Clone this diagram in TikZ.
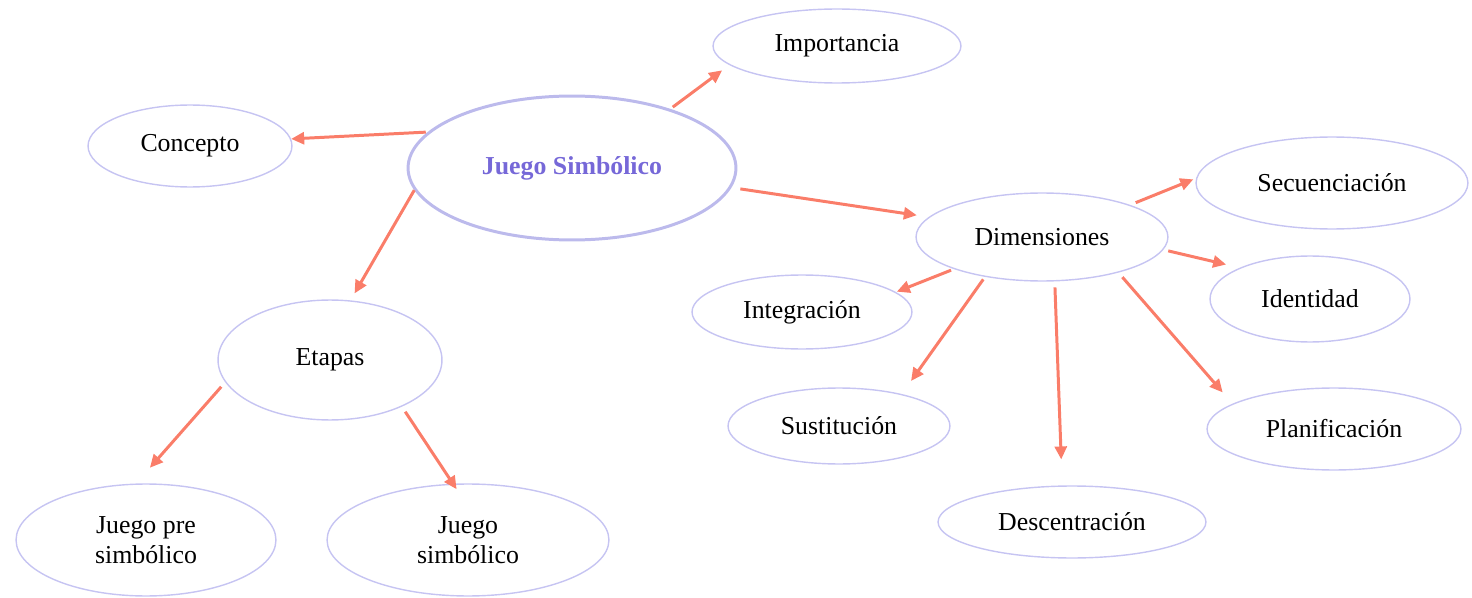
\documentclass[tikz,border=0pt]{standalone}
\usepackage{fontspec}
\setmainfont{Liberation Serif}
\usetikzlibrary{shapes.geometric,arrows.meta}
\definecolor{elborder}{RGB}{198,196,242}
\definecolor{elcenter}{RGB}{188,186,236}
\definecolor{arrowc}{RGB}{250,125,105}
\definecolor{titlec}{RGB}{118,104,216}
\tikzset{
  bub/.style={ellipse, draw=elborder, line width=0.8pt, inner sep=0pt, align=center,
    font=\fontsize{14.7}{17}\selectfont},
  sz/.style 2 args={minimum width=#1*0.04cm, minimum height=#2*0.04cm},
  conn/.style={draw=arrowc, line width=1.7pt, -{Triangle[length=0.26cm,width=0.24cm]}},
  gs/.style={shorten <=#1*0.02cm},
  ge/.style={shorten >=#1*0.02cm},
}
\begin{document}
\begin{tikzpicture}[x=0.02cm,y=-0.02cm]
\useasboundingbox (0,0) rectangle (1472,598);
% nodes
\node[bub, sz={164}{72}, draw=elcenter, line width=1.7pt, text=titlec, font=\fontsize{14.7}{17}\selectfont\bfseries] (js) at (572,168) {Juego Simbólico};
\node[bub, sz={124}{37}] (imp) at (837,46) {Importancia};
\node[bub, sz={102}{41}] (con) at (190,146) {Concepto};
\node[bub, sz={126}{44}] (dim) at (1042,237) {Dimensiones};
\node[bub, sz={136}{46}] (sec) at (1332,183) {Secuenciación};
\node[bub, sz={100}{43}] (ide) at (1310,299) {Identidad};
\node[bub, sz={110}{37}] (int) at (802,312) {Integración};
\node[bub, sz={111}{38}] (sus) at (839,426) {Sustitución};
\node[bub, sz={127}{41}] (pla) at (1334,429) {Planificación};
\node[bub, sz={134}{36}] (des) at (1072,522) {Descentración};
\node[bub, sz={112}{60}] (eta) at (330,360) {Etapas};
\node[bub, sz={130}{56}] (jps) at (146,540) {Juego pre\\simbólico};
\node[bub, sz={141}{56}] (jsb) at (468,540) {Juego\\simbólico};
% connectors
\draw[conn, gs=3, ge=9] (js.31) -- (imp.190.4);
\draw[conn, gs=2, ge=0] (js.166) -- (con.4);
\draw[conn, gs=0, ge=8] (js.-172) -- (eta.71.4);
\draw[conn, gs=9, ge=12] (js.-7.5) -- (dim.170.4);
\draw[conn, gs=6, ge=3] (dim.20) -- (sec.178);
\draw[conn, gs=5, ge=14] (dim.-6) -- (ide.156);
\draw[conn, gs=3, ge=1] (dim.-160) -- (int.12.7);
\draw[conn, gs=3, ge=16] (dim.-145) -- (sus.27.7);
\draw[conn, gs=6, ge=26] (dim.-74.4) -- (des.105.9);
\draw[conn, gs=6, ge=15] (dim.-25) -- (pla.166.6);
\draw[conn, gs=6, ge=21] (eta.-168) -- (jps.100.7);
\draw[conn, gs=6, ge=-6.7] (eta.-33.7) -- (jsb.105.7);
\end{tikzpicture}
\end{document}
